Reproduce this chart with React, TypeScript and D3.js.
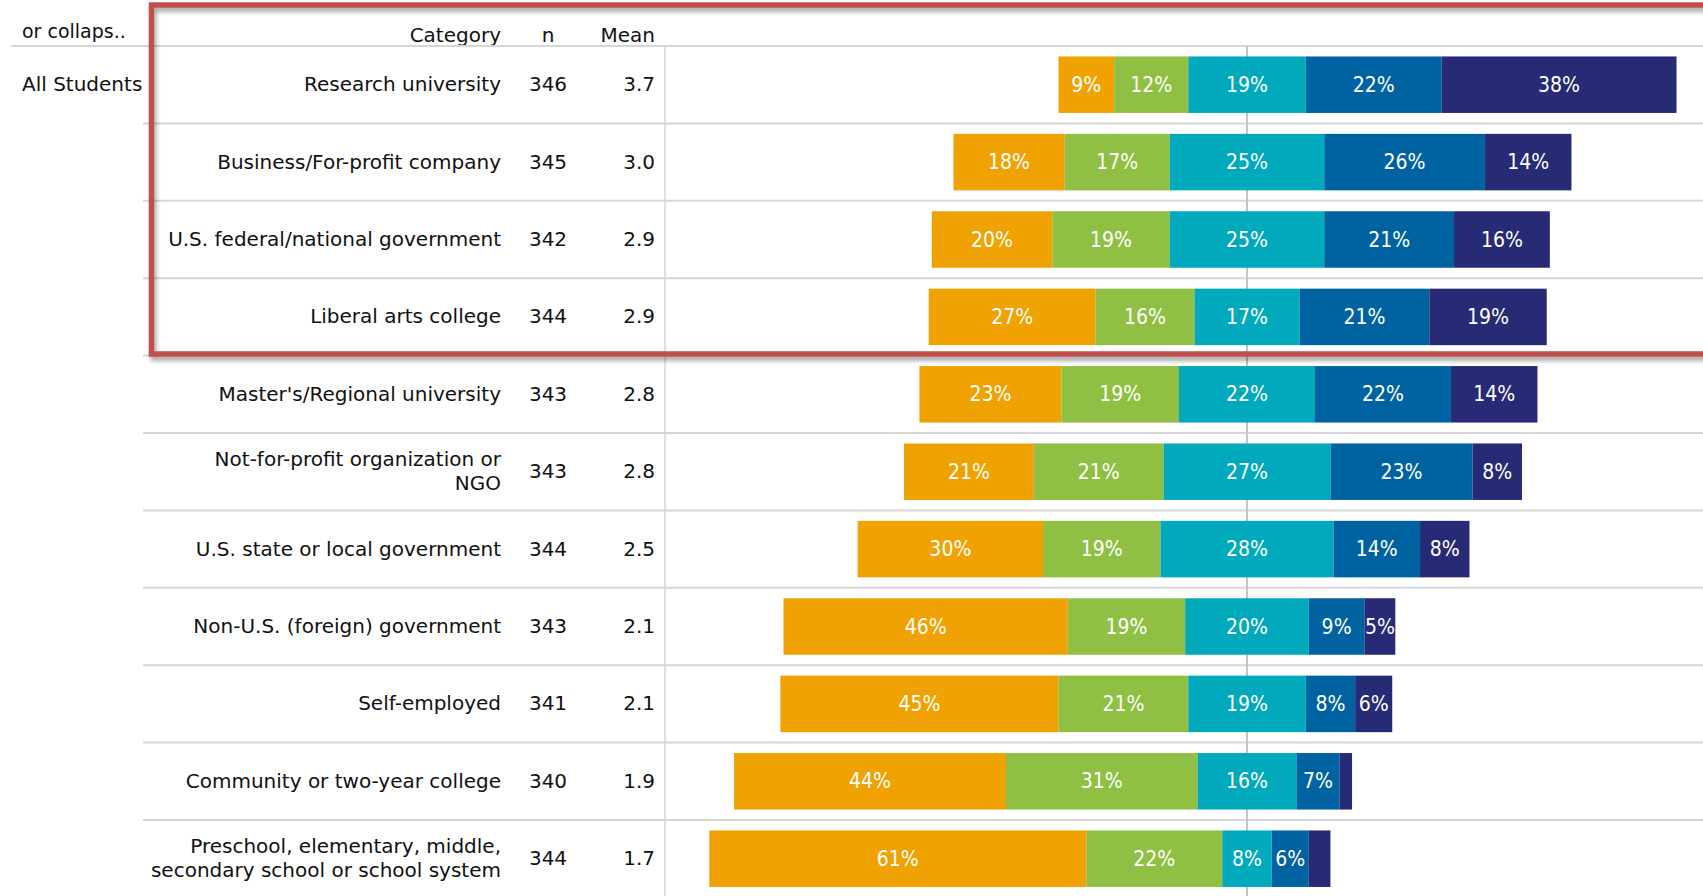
import React from "react";
import * as d3 from "d3";

const categories: string[][] = [
  ["Research university"],
  ["Business/For-profit company"],
  ["U.S. federal/national government"],
  ["Liberal arts college"],
  ["Master's/Regional university"],
  ["Not-for-profit organization or", "NGO"],
  ["U.S. state or local government"],
  ["Non-U.S. (foreign) government"],
  ["Self-employed"],
  ["Community or two-year college"],
  ["Preschool, elementary, middle,", "secondary school or school system"],
];
const nValues = [346, 345, 342, 344, 343, 343, 344, 343, 341, 340, 344];
const meanValues = ["3.7", "3.0", "2.9", "2.9", "2.8", "2.8", "2.5", "2.1", "2.1", "1.9", "1.7"];

const level1 = [9, 18, 19.5, 27, 23, 21, 30, 46, 45, 44, 61];
const level2 = [12, 17, 19, 16, 19, 21, 19, 19, 21, 31, 22];
const level3 = [19, 25, 25, 17, 22, 27, 28, 20, 19, 16, 8];
const level4 = [22, 26, 21, 21, 22, 23, 14, 9, 8, 7, 6];
const level5 = [38, 14, 15.5, 19, 14, 8, 8, 5, 6, 2, 3.5];
const levels = [level1, level2, level3, level4, level5];
const colors = ["#F0A202", "#8FBF43", "#00A9BB", "#0063A1", "#272A74"];

const headerCategory = "Category";
const headerN = "n";
const headerMean = "Mean";
const groupLabel = "All Students";
const topLabel = "or collaps..";

const W = 1703;
const H = 896;
const FONT = "'DejaVu Sans', Verdana, sans-serif";
const NFONT = "'DejaVu Sans Condensed', 'DejaVu Sans', sans-serif";
const FS = 20;

export default function App() {
  const headerY = 46;
  const rowH = 77.4;
  const y = d3
    .scaleBand<number>()
    .domain(d3.range(categories.length))
    .range([headerY, headerY + rowH * categories.length])
    .paddingInner(0)
    .paddingOuter(0);
  const centerX = 1247;
  const x = d3.scaleLinear().domain([-100, 100]).range([centerX - 618, centerX + 618]);
  const barH = y.bandwidth() * 0.73;

  const rows = categories.map((cat, i) => {
    const vals = levels.map((l) => l[i]);
    const offset = vals[0] + vals[1] + vals[2] / 2;
    let cum = -offset;
    const segs = vals.map((v, k) => {
      const s = { x0: cum, x1: cum + v, v, k };
      cum += v;
      return s;
    });
    return { cat, segs, i };
  });

  return (
    <svg width={W} height={H} style={{ position: "absolute", left: 0, top: 0, background: "#fff" }}>
      <defs>
        <filter id="sh" x="-5%" y="-5%" width="110%" height="120%">
          <feDropShadow dx="2" dy="4" stdDeviation="2" floodColor="#000" floodOpacity="0.35" />
        </filter>
      </defs>
      <rect width={W} height={H} fill="#fff" />
      <text x={22} y={32} fontFamily={FONT} fontSize={19} fill="#111" dominantBaseline="middle">
        {topLabel}
      </text>
      <text x={501} y={36} fontFamily={FONT} fontSize={FS} fill="#111" textAnchor="end" dominantBaseline="middle">
        {headerCategory}
      </text>
      <text x={548} y={36} fontFamily={FONT} fontSize={FS} fill="#111" textAnchor="middle" dominantBaseline="middle">
        {headerN}
      </text>
      <text x={655} y={36} fontFamily={FONT} fontSize={FS} fill="#111" textAnchor="end" dominantBaseline="middle">
        {headerMean}
      </text>
      <line x1={11} x2={W} y1={headerY} y2={headerY} stroke="#d6d6d6" strokeWidth={2} />
      <text x={22} y={y(0)! + y.bandwidth() / 2 + 1} fontFamily={FONT} fontSize={FS} fill="#111" dominantBaseline="middle">
        {groupLabel}
      </text>
      {rows.slice(1).map((r) => (
        <line key={"sep" + r.i} x1={143} x2={W} y1={y(r.i)!} y2={y(r.i)!} stroke="#d6d6d6" strokeWidth={2} />
      ))}
      <line x1={665} x2={665} y1={headerY} y2={H} stroke="#d6d6d6" strokeWidth={1.5} />
      <line x1={x(0)} x2={x(0)} y1={headerY} y2={H} stroke="#c4c4c4" strokeWidth={2} />
      {rows.map((r) => {
        const cy = y(r.i)! + y.bandwidth() / 2;
        const lines = r.cat;
        const lh = 24;
        return (
          <g key={"row" + r.i}>
            {lines.map((t, j) => (
              <text
                key={j}
                x={501}
                y={cy + 1 + (j - (lines.length - 1) / 2) * lh}
                fontFamily={FONT}
                fontSize={FS}
                fill="#111"
                textAnchor="end"
                dominantBaseline="middle"
              >
                {t}
              </text>
            ))}
            <text x={548} y={cy + 1} fontFamily={FONT} fontSize={FS} fill="#111" textAnchor="middle" dominantBaseline="middle">
              {nValues[r.i]}
            </text>
            <text x={655} y={cy + 1} fontFamily={FONT} fontSize={FS} fill="#111" textAnchor="end" dominantBaseline="middle">
              {meanValues[r.i]}
            </text>
            {r.segs.map((s) => (
              <rect
                key={"s" + s.k}
                x={x(s.x0)}
                y={cy - barH / 2}
                width={x(s.x1) - x(s.x0)}
                height={barH}
                fill={colors[s.k]}
              />
            ))}
            {r.segs
              .filter((s) => s.v >= 4)
              .map((s) => (
                <text
                  key={"t" + s.k}
                  x={(x(s.x0) + x(s.x1)) / 2}
                  y={cy + 1}
                  fontFamily={NFONT}
                  fontStretch="condensed"
                  fontSize={21}
                  fill="#fff"
                  textAnchor="middle"
                  dominantBaseline="middle"
                >
                  {Math.round(s.v) + "%"}
                </text>
              ))}
          </g>
        );
      })}
      <rect
        x={151.5}
        y={5}
        width={W}
        height={349}
        fill="none"
        stroke="#C0504D"
        strokeWidth={5.5}
        filter="url(#sh)"
      />
    </svg>
  );
}
